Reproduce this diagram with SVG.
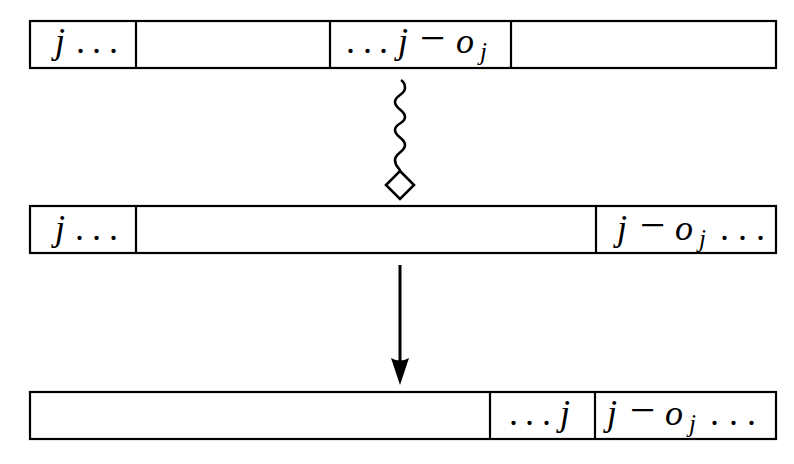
<svg xmlns="http://www.w3.org/2000/svg" width="794" height="464" viewBox="0 0 794 464">
<style>
.box{fill:#fff;stroke:#000;stroke-width:2.2}
.div{stroke:#000;stroke-width:2.2}
.m{font-family:"Liberation Serif","DejaVu Serif",serif;font-size:36px;fill:#000}
.i{font-style:italic}
.s{font-style:italic;font-size:25px}
.mi{font-size:45px}
.conn{fill:none;stroke:#000;stroke-width:2.6}
.head{fill:#000;stroke:none}
</style>

<g id="row1">
<rect class="box" x="30" y="21" width="746" height="47"/>
<line class="div" x1="136" y1="21" x2="136" y2="68"/>
<line class="div" x1="330" y1="21" x2="330" y2="68"/>
<line class="div" x1="511" y1="21" x2="511" y2="68"/>
<text class="m" y="53"><tspan class="i" x="55">j</tspan><tspan x="76">.</tspan><tspan x="92">.</tspan><tspan x="109">.</tspan></text>
<text class="m" y="53"><tspan x="346">.</tspan><tspan x="363">.</tspan><tspan x="379">.</tspan><tspan class="i" x="398">j</tspan><tspan class="mi" x="420">−</tspan><tspan class="i" x="456">o</tspan><tspan class="s" x="480" y="60">j</tspan></text>
</g>

<g id="row2">
<rect class="box" x="30" y="206" width="746" height="47"/>
<line class="div" x1="136" y1="206" x2="136" y2="253"/>
<line class="div" x1="596" y1="206" x2="596" y2="253"/>
<text class="m" y="240"><tspan class="i" x="55">j</tspan><tspan x="75">.</tspan><tspan x="92">.</tspan><tspan x="109">.</tspan></text>
<text class="m" y="240"><tspan class="i" x="617">j</tspan><tspan class="mi" x="640">−</tspan><tspan class="i" x="675">o</tspan><tspan class="s" x="699" y="247">j</tspan><tspan x="720" y="240">.</tspan><tspan x="738">.</tspan><tspan x="756">.</tspan></text>
</g>

<g id="row3">
<rect class="box" x="30" y="392" width="746" height="47"/>
<line class="div" x1="490" y1="392" x2="490" y2="439"/>
<line class="div" x1="595" y1="392" x2="595" y2="439"/>
<text class="m" y="425"><tspan x="509">.</tspan><tspan x="525">.</tspan><tspan x="542">.</tspan><tspan class="i" x="560">j</tspan></text>
<text class="m" y="425"><tspan class="i" x="607">j</tspan><tspan class="mi" x="630">−</tspan><tspan class="i" x="665">o</tspan><tspan class="s" x="689" y="432">j</tspan><tspan x="710" y="425">.</tspan><tspan x="729">.</tspan><tspan x="747">.</tspan></text>
</g>

<g id="connectors">
<path class="conn" d="M401,80 C404,82 405,85 405,88 C405,95 395,95 395,102 S405,110 405,117 S395,123 395,130 S405,138 405,145 S395,153 395,160 S400,168 400,171"/>
<polygon class="conn" points="400,171 414,185 400,199 386,185" style="fill:#fff"/>
<line class="conn" x1="400" y1="265" x2="400" y2="364" style="stroke-width:3"/>
<path class="head" d="M391,358 L400,385 L409,358 Q400,363 391,358 Z"/>
</g>
</svg>
